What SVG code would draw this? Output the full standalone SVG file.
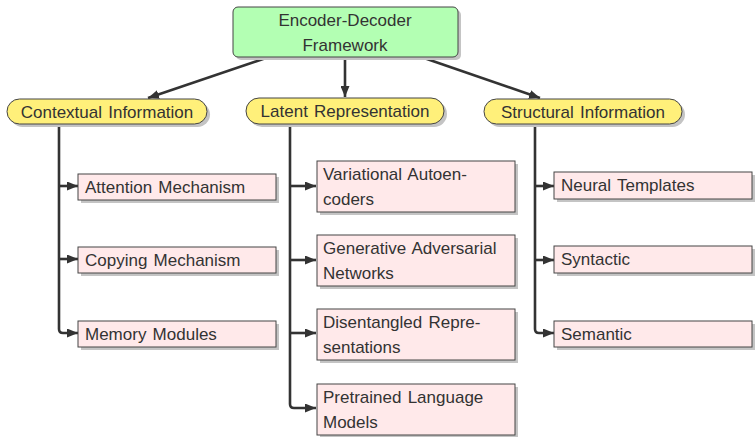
<svg xmlns="http://www.w3.org/2000/svg" width="755" height="437" viewBox="0 0 755 437">
<defs>
<style>
text{font-family:"Liberation Sans",Arial,sans-serif;font-size:17px;word-spacing:1.5px;fill:#333}
.c{text-anchor:middle}
.sh{fill:#c4c4c4}
.root{fill:#b3ffb3;stroke:#444;stroke-width:1}
.cat{fill:#fff07a;stroke:#444;stroke-width:1}
.leaf{fill:#ffe9ea;stroke:#444;stroke-width:1}
.ln{fill:none;stroke:#333;stroke-width:2.6}
</style>
<marker id="ah" markerUnits="userSpaceOnUse" markerWidth="11" markerHeight="9" refX="11" refY="4.5" orient="auto">
<path d="M0,0 L11,4.5 L0,9 z" fill="#333"/>
</marker>
</defs>
<g id="connectors">
<path class="ln" d="M266,58 L148,98" marker-end="url(#ah)"/>
<path class="ln" d="M345,58 L345,97" marker-end="url(#ah)"/>
<path class="ln" d="M424,58 L540,98" marker-end="url(#ah)"/>
<path class="ln" d="M59,124 L59,329 Q59,333 63,333 L78,333" marker-end="url(#ah)"/>
<path class="ln" d="M59,186 L78,186" marker-end="url(#ah)"/>
<path class="ln" d="M59,259 L78,259" marker-end="url(#ah)"/>
<path class="ln" d="M290,125 L290,404 Q290,408 294,408 L316,408" marker-end="url(#ah)"/>
<path class="ln" d="M290,186 L316,186" marker-end="url(#ah)"/>
<path class="ln" d="M290,260 L316,260" marker-end="url(#ah)"/>
<path class="ln" d="M290,333 L316,333" marker-end="url(#ah)"/>
<path class="ln" d="M535,124 L535,329 Q535,333 539,333 L554,333" marker-end="url(#ah)"/>
<path class="ln" d="M535,186 L554,186" marker-end="url(#ah)"/>
<path class="ln" d="M535,260 L554,260" marker-end="url(#ah)"/>
</g>
<g id="root">
<rect class="sh" x="236" y="10" width="225" height="50" rx="5"/>
<rect class="root" x="233" y="7" width="225" height="50" rx="5"/>
<text class="c" x="345" y="26">Encoder-Decoder</text>
<text class="c" x="345" y="51">Framework</text>
</g>
<g id="contextual">
<rect class="sh" x="10" y="102" width="200" height="25" rx="12.5"/>
<rect class="cat" x="7" y="99" width="200" height="25" rx="12.5"/>
<text class="c" x="107" y="118">Contextual Information</text>
</g>
<g id="latent">
<rect class="sh" x="249" y="101" width="198" height="26" rx="13"/>
<rect class="cat" x="246" y="98" width="198" height="26" rx="13"/>
<text class="c" x="345" y="117">Latent Representation</text>
</g>
<g id="structural">
<rect class="sh" x="487" y="102" width="198" height="25" rx="12.5"/>
<rect class="cat" x="484" y="99" width="198" height="25" rx="12.5"/>
<text class="c" x="583" y="118">Structural Information</text>
</g>
<g id="attention">
<rect class="sh" x="81" y="177" width="198" height="26"/>
<rect class="leaf" x="78" y="174" width="198" height="26"/>
<text x="85" y="193">Attention Mechanism</text>
</g>
<g id="copying">
<rect class="sh" x="81" y="250" width="198" height="26"/>
<rect class="leaf" x="78" y="247" width="198" height="26"/>
<text x="85" y="266">Copying Mechanism</text>
</g>
<g id="memory">
<rect class="sh" x="81" y="324" width="198" height="26"/>
<rect class="leaf" x="78" y="321" width="198" height="26"/>
<text x="85" y="340">Memory Modules</text>
</g>
<g id="variational">
<rect class="sh" x="320" y="164" width="198" height="51"/>
<rect class="leaf" x="317" y="161" width="198" height="51"/>
<text x="323" y="180">Variational Autoen-</text>
<text x="323" y="205">coders</text>
</g>
<g id="generative">
<rect class="sh" x="320" y="238" width="198" height="51"/>
<rect class="leaf" x="317" y="235" width="198" height="51"/>
<text x="323" y="254">Generative Adversarial</text>
<text x="323" y="279">Networks</text>
</g>
<g id="disentangled">
<rect class="sh" x="320" y="312" width="198" height="51"/>
<rect class="leaf" x="317" y="309" width="198" height="51"/>
<text x="323" y="328">Disentangled Repre-</text>
<text x="323" y="353">sentations</text>
</g>
<g id="pretrained">
<rect class="sh" x="320" y="387" width="198" height="51"/>
<rect class="leaf" x="317" y="384" width="198" height="51"/>
<text x="323" y="403">Pretrained Language</text>
<text x="323" y="428">Models</text>
</g>
<g id="neural">
<rect class="sh" x="557" y="175" width="198" height="27"/>
<rect class="leaf" x="554" y="172" width="198" height="27"/>
<text x="561" y="191">Neural Templates</text>
</g>
<g id="syntactic">
<rect class="sh" x="557" y="249" width="198" height="27"/>
<rect class="leaf" x="554" y="246" width="198" height="27"/>
<text x="561" y="265">Syntactic</text>
</g>
<g id="semantic">
<rect class="sh" x="557" y="324" width="198" height="26"/>
<rect class="leaf" x="554" y="321" width="198" height="26"/>
<text x="561" y="340">Semantic</text>
</g>
</svg>
